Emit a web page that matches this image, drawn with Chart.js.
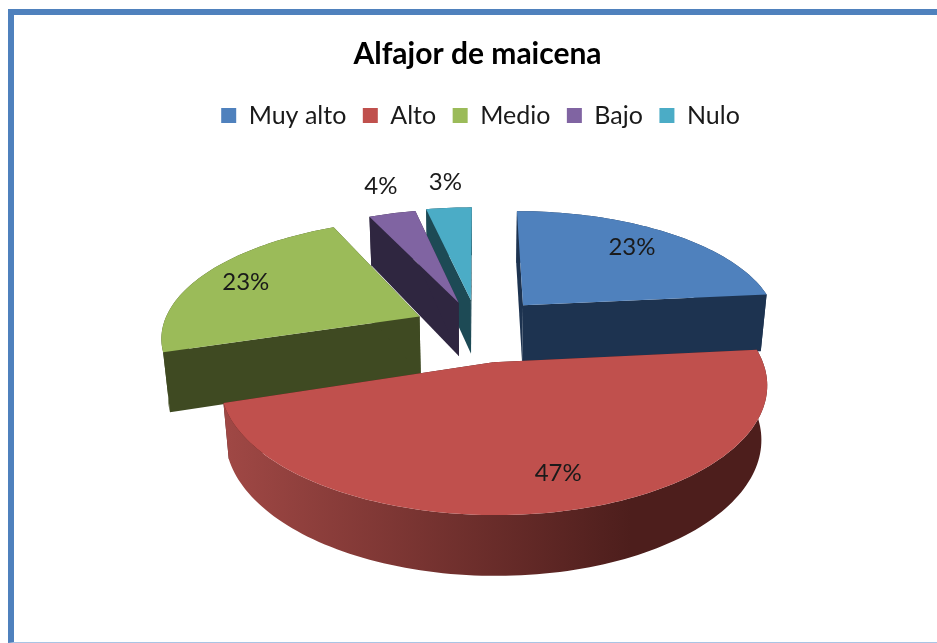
<!DOCTYPE html>
<html>
<head>
<meta charset="utf-8">
<title>Alfajor de maicena</title>
<script src="https://cdn.jsdelivr.net/npm/chart.js@4"></script>
<style>
  body { margin: 0; background: #fff; }
  #wrap { position: relative; width: 937px; height: 643px; overflow: hidden; }
  #frame { position: absolute; left: 8px; top: 9px; right: 0; bottom: 0; box-sizing: border-box;
    border-left: 6px solid #4f81bd; border-top: 6px solid #4f81bd; border-bottom: 1px solid #a9c4e4; }
  #c { position: absolute; left: 0; top: 0; }
</style>
</head>
<body>
<div id="wrap">
  <div id="frame"></div>
  <canvas id="c" width="937" height="643"></canvas>
</div>
<script>
const categories = ['Muy alto', 'Alto', 'Medio', 'Bajo', 'Nulo'];
const percents = [23.4, 46.7, 23, 3.5, 3.4];
const topColors = ['#4f81bd', '#c0504d', '#9bbb59', '#8064a2', '#4bacc6'];
const wallColors = ['#1d3350', '#4d1e1c', '#3f4a22', '#2f2640', '#1d4a55'];
const rimLeftColors = ['#1d3350', '#a04845', '#3f4a22', '#2f2640', '#1d4a55'];
const explode = [49, 52, 45, 43, 45];
const wallDepth = [60, 53, 60, 56, 56];
const labelRadius = [0.76, 0.79, 0.8, 1.35, 1.33];
const labelTurn = [-0.03, -0.055, 0, 0.03, 0.009];

// tilt of the 3d look, relative to the radius chart.js gives the pie
const stretchX = 1.43, stretchY = 0.644, persp = 0.16, depthShrink = 0.00036;

function project(arc, px, py, down) {
  const R = arc.outerRadius;
  const u = px / R, v = py / R;
  const s = 1 / (1 - persp * v + depthShrink * down);
  return {
    x: arc.x + u * R * stretchX * s,
    y: arc.y + (v * R * stretchY + down) * s
  };
}

function polygon(ctx, pts, fill) {
  ctx.beginPath();
  pts.forEach((p, i) => i ? ctx.lineTo(p.x, p.y) : ctx.moveTo(p.x, p.y));
  ctx.closePath();
  ctx.fillStyle = fill;
  ctx.fill();
}

function drawSlice(ctx, arc, i) {
  const mid = (arc.startAngle + arc.endAngle) / 2;
  const off = arc.options.offset;
  const ox = Math.cos(mid) * off, oy = Math.sin(mid) * off;
  const R = arc.outerRadius;
  const steps = Math.max(6, Math.ceil((arc.endAngle - arc.startAngle) * 40));
  const edge = [];
  for (let k = 0; k <= steps; k++) {
    const t = arc.startAngle + (arc.endAngle - arc.startAngle) * k / steps;
    edge.push([ox + Math.cos(t) * R, oy + Math.sin(t) * R]);
  }
  const topRim = edge.map(e => project(arc, e[0], e[1], 0));
  const botRim = edge.map(e => project(arc, e[0], e[1], wallDepth[i]));
  const apexTop = project(arc, ox, oy, 0);
  const apexBot = project(arc, ox, oy, wallDepth[i]);

  polygon(ctx, [apexTop, topRim[0], botRim[0], apexBot], wallColors[i]);
  polygon(ctx, [apexTop, topRim[steps], botRim[steps], apexBot], wallColors[i]);

  const xs = topRim.map(p => p.x);
  const grad = ctx.createLinearGradient(Math.min(...xs), 0, Math.max(...xs), 0);
  grad.addColorStop(0, rimLeftColors[i]);
  grad.addColorStop(0.75, wallColors[i]);
  grad.addColorStop(1, wallColors[i]);
  polygon(ctx, topRim.concat(botRim.slice().reverse()), grad);

  polygon(ctx, [apexTop].concat(topRim), topColors[i]);
}

const pie3d = {
  id: 'pie3d',
  afterLayout(chart) {
    // legend sits a little right of the title in the original
    chart.legend.left += 3;
    chart.legend.right += 3;
  },
  beforeDatasetDraw() { return false; },
  afterDatasetsDraw(chart) {
    const ctx = chart.ctx;
    const arcs = chart.getDatasetMeta(0).data;
    const order = arcs.map((a, i) => i).sort((a, b) => {
      const va = Math.sin((arcs[a].startAngle + arcs[a].endAngle) / 2);
      const vb = Math.sin((arcs[b].startAngle + arcs[b].endAngle) / 2);
      return va - vb;
    });
    ctx.save();
    order.forEach(i => drawSlice(ctx, arcs[i], i));

    ctx.font = '24px Lato';
    ctx.fillStyle = '#1a1a1a';
    ctx.textAlign = 'center';
    ctx.textBaseline = 'middle';
    arcs.forEach((arc, i) => {
      const mid = (arc.startAngle + arc.endAngle) / 2;
      const off = arc.options.offset;
      const r = arc.outerRadius * labelRadius[i];
      const t = mid + labelTurn[i];
      const p = project(arc, Math.cos(mid) * off + Math.cos(t) * r, Math.sin(mid) * off + Math.sin(t) * r, 0);
      ctx.fillText(Math.round(percents[i]) + '%', p.x, p.y);
    });
    ctx.restore();
  }
};

new Chart(document.getElementById('c'), {
  type: 'pie',
  data: {
    labels: categories,
    datasets: [{
      data: percents,
      backgroundColor: topColors,
      borderWidth: 0,
      offset: explode,
      hoverOffset: 0
    }]
  },
  options: {
    responsive: false,
    animation: false,
    radius: 180,
    layout: { padding: { left: 18, right: 0, top: 30, bottom: 125 } },
    plugins: {
      tooltip: { enabled: false },
      title: {
        display: true,
        text: 'Alfajor de maicena',
        color: '#000',
        font: { family: 'Lato', size: 30, weight: 'bold' },
        padding: { top: 6, bottom: 14.5 }
      },
      legend: {
        position: 'top',
        labels: {
          color: '#1a1a1a',
          font: { family: 'Lato', size: 25 },
          boxWidth: 15,
          boxHeight: 15,
          padding: 16.5
        }
      }
    }
  },
  plugins: [pie3d]
});
</script>
</body>
</html>
